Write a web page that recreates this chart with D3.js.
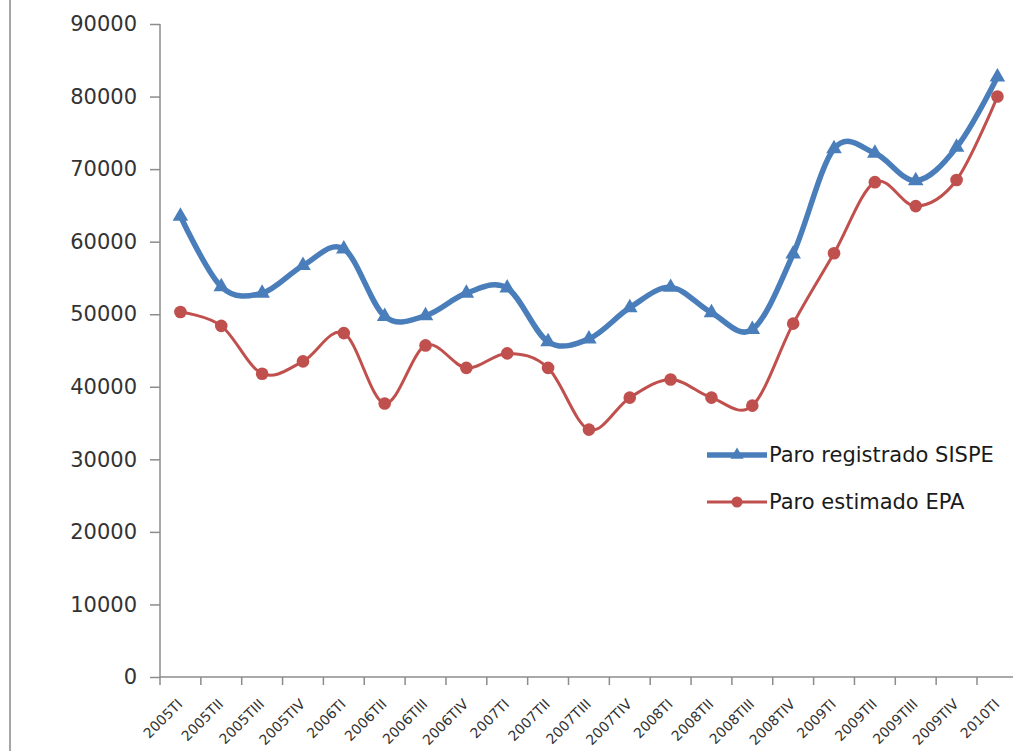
<!DOCTYPE html>
<html>
<head>
<meta charset="utf-8">
<script src="https://cdn.jsdelivr.net/npm/d3@7"></script>
<style>
  html, body { margin: 0; padding: 0; background: #fff; }
  svg { display: block; }
</style>
</head>
<body>
<svg id="chart" width="1013" height="751"></svg>
<script>
// Quarters (trimestres)
const categories = [
  "2005TI", "2005TII", "2005TIII", "2005TIV",
  "2006TI", "2006TII", "2006TIII", "2006TIV",
  "2007TI", "2007TII", "2007TIII", "2007TIV",
  "2008TI", "2008TII", "2008TIII", "2008TIV",
  "2009TI", "2009TII", "2009TIII", "2009TIV",
  "2010TI"
];

// Paro registrado (SISPE)
const sispe = [
  63500, 53800, 52900, 56700, 59000, 49700, 49800, 52900, 53600, 46200, 46600,
  50900, 53700, 50200, 47900, 58300, 72800, 72200, 68400, 73000, 82700
];

// Paro estimado (EPA)
const epa = [
  50300, 48400, 41800, 43500, 47400, 37700, 45700, 42600, 44600, 42600, 34100,
  38500, 41000, 38500, 37400, 48700, 58400, 68200, 64900, 68500, 80000
];

const yTicks = [0, 10000, 20000, 30000, 40000, 50000, 60000, 70000, 80000, 90000];

const seriesNames = ["Paro registrado SISPE", "Paro estimado EPA"];

const blue = "#4a7ebb";
const red = "#c0504d";
const axisColor = "#8c8c8c";
const textColor = "#333333";

const svg = d3.select("#chart");

// left frame line
svg.append("line")
  .attr("x1", 10).attr("x2", 10)
  .attr("y1", 0).attr("y2", 751)
  .attr("stroke", "#a6a6a6").attr("stroke-width", 2);

const x = d3.scaleBand()
  .domain(categories)
  .range([160, 160 + 21 * 40.85])
  .paddingInner(0).paddingOuter(0);

const y = d3.scaleLinear()
  .domain([0, 90000])
  .range([677, 24]);

const cx = d => x(d) + x.bandwidth() / 2;

// Y axis
const yAxis = d3.axisLeft(y)
  .tickValues(yTicks)
  .tickSize(10)
  .tickPadding(13)
  .tickFormat(d3.format("d"));

const yG = svg.append("g")
  .attr("transform", "translate(160,0)")
  .call(yAxis);
yG.select(".domain").attr("stroke", axisColor).attr("stroke-width", 1.5)
  .attr("d", `M0,${y(90000)}V${y(0)}`);
yG.selectAll(".tick line").attr("stroke", axisColor).attr("stroke-width", 1.5);
yG.selectAll(".tick text")
  .attr("fill", textColor)
  .style("font-family", "'DejaVu Sans', sans-serif")
  .style("font-size", "21px");

// X axis (ticks between categories)
const xG = svg.append("g");
xG.append("line")
  .attr("x1", 160).attr("x2", x.range()[1])
  .attr("y1", y(0)).attr("y2", y(0))
  .attr("stroke", axisColor).attr("stroke-width", 1.5);
const boundaries = categories.map(c => x(c)).concat([x.range()[1]]);
xG.selectAll("line.tk")
  .data(boundaries)
  .join("line")
  .attr("class", "tk")
  .attr("x1", d => d).attr("x2", d => d)
  .attr("y1", y(0)).attr("y2", y(0) + 8)
  .attr("stroke", axisColor).attr("stroke-width", 1.5);
xG.selectAll("text")
  .data(categories)
  .join("text")
  .attr("transform", d => `translate(${cx(d) - 0.5},${y(0) + 24.5}) rotate(-45)`)
  .attr("text-anchor", "end")
  .attr("dy", "0.35em")
  .attr("fill", textColor)
  .style("font-family", "'DejaVu Sans', sans-serif")
  .style("font-size", "14px")
  .text(d => d);

// Lines
const line = d3.line()
  .x((d, i) => cx(categories[i]))
  .y(d => y(d))
  .curve(d3.curveCardinal.tension(0));

svg.append("path")
  .datum(epa)
  .attr("d", line)
  .attr("fill", "none")
  .attr("stroke", red)
  .attr("stroke-width", 3);

svg.append("path")
  .datum(sispe)
  .attr("d", line)
  .attr("fill", "none")
  .attr("stroke", blue)
  .attr("stroke-width", 5.5);

// Markers
const tri = d3.symbol().type(d3.symbolTriangle).size(105);

svg.append("g")
  .selectAll("circle")
  .data(epa)
  .join("circle")
  .attr("cx", (d, i) => cx(categories[i]))
  .attr("cy", d => y(d))
  .attr("r", 6.3)
  .attr("fill", red);

svg.append("g")
  .selectAll("path")
  .data(sispe)
  .join("path")
  .attr("transform", (d, i) => `translate(${cx(categories[i])},${y(d)})`)
  .attr("d", tri)
  .attr("fill", blue);

// Legend
const legend = svg.append("g");
const legendRows = [
  { name: seriesNames[0], color: blue, width: 5.5, marker: "tri", y: 455 },
  { name: seriesNames[1], color: red, width: 3, marker: "circle", y: 502 }
];
legendRows.forEach(r => {
  legend.append("line")
    .attr("x1", 707).attr("x2", 767)
    .attr("y1", r.y).attr("y2", r.y)
    .attr("stroke", r.color).attr("stroke-width", r.width);
  if (r.marker === "tri") {
    legend.append("path")
      .attr("transform", `translate(737,${r.y})`)
      .attr("d", d3.symbol().type(d3.symbolTriangle).size(75))
      .attr("fill", r.color);
  } else {
    legend.append("circle")
      .attr("cx", 737).attr("cy", r.y).attr("r", 5.5)
      .attr("fill", r.color);
  }
  legend.append("text")
    .attr("x", 769).attr("y", r.y)
    .attr("dy", "0.35em")
    .attr("fill", "#1a1a1a")
    .style("font-family", "'DejaVu Sans', sans-serif")
    .style("font-size", "21px")
    .text(r.name);
});
</script>
</body>
</html>
